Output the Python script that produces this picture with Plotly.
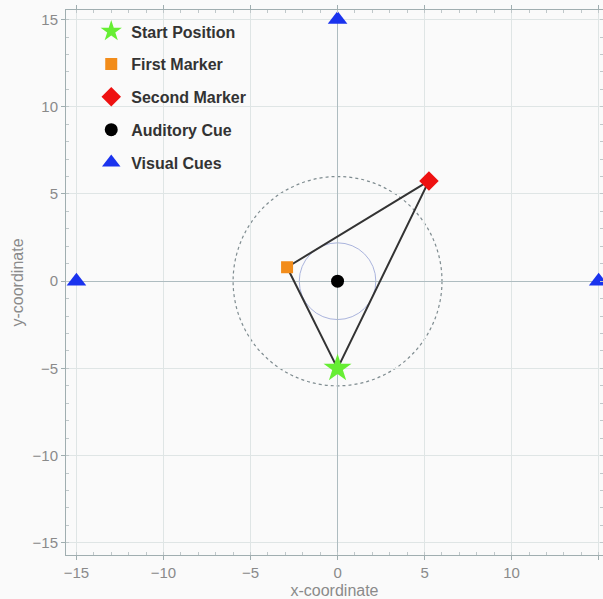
import plotly.graph_objects as go

# Data
start_x, start_y = [0.0], [-5.0]
first_x, first_y = [-2.9], [0.8]
second_x, second_y = [5.25], [5.75]
aud_x, aud_y = [0.0], [0.0]
vis_x, vis_y = [0.0, -15.0, 15.0], [15.0, 0.0, 0.0]
outer_radius = 6.0
inner_radius = 2.2
tick_vals = [-15, -10, -5, 0, 5, 10, 15]

fig = go.Figure()

# triangle path: first -> second -> start -> first
tri_x = first_x + second_x + start_x + first_x
tri_y = first_y + second_y + start_y + first_y
fig.add_trace(go.Scatter(x=tri_x, y=tri_y, mode="lines",
                         line=dict(color="#333333", width=2), showlegend=False, hoverinfo="skip"))

fig.add_trace(go.Scatter(x=start_x, y=start_y, mode="markers", name="Start Position",
                         legendgroup="a",
                         marker=dict(symbol="star", size=21, color="#66ee33", line=dict(width=0))))
fig.add_trace(go.Scatter(x=first_x, y=first_y, mode="markers", name="First Marker",
                         legendgroup="b",
                         marker=dict(symbol="square", size=12, color="#f28c1a", line=dict(width=0))))
fig.add_trace(go.Scatter(x=second_x, y=second_y, mode="markers", name="Second Marker",
                         legendgroup="c",
                         marker=dict(symbol="diamond", size=15, color="#ee1111", line=dict(width=0))))
fig.add_trace(go.Scatter(x=aud_x, y=aud_y, mode="markers", name="Auditory Cue",
                         legendgroup="d",
                         marker=dict(symbol="circle", size=13, color="#000000", line=dict(width=0))))
fig.add_trace(go.Scatter(x=vis_x, y=vis_y, mode="markers", name="Visual Cues",
                         legendgroup="e",
                         marker=dict(symbol="triangle-up", size=17, color="#1a33ee", line=dict(width=0))))

fig.add_shape(type="circle", xref="x", yref="y",
              x0=-outer_radius, y0=-outer_radius, x1=outer_radius, y1=outer_radius,
              line=dict(color="#7f8c90", width=1.2, dash="dot"), layer="below")
fig.add_shape(type="circle", xref="x", yref="y",
              x0=-inner_radius, y0=-inner_radius, x1=inner_radius, y1=inner_radius,
              line=dict(color="#aab4dd", width=1), layer="below")

axis_common = dict(
    tickvals=tick_vals,
    automargin=False,
    showgrid=True, gridcolor="#dfe5e5", gridwidth=1,
    zeroline=True, zerolinecolor="#aebcc0", zerolinewidth=1.2,
    showline=True, linecolor="#a0aeb0", linewidth=1, mirror="ticks",
    ticks="outside", ticklen=4, tickcolor="#a0aeb0",
    minor=dict(ticks="inside", ticklen=3, tickcolor="#c0c8ca", dtick=1, showgrid=False),
    tickfont=dict(family="Liberation Sans, Arial", size=15, color="#8a8a8a"),
    title_font=dict(family="Liberation Sans, Arial", size=16, color="#8a8a8a"),
)

fig.update_layout(
    width=603, height=599,
    margin=dict(l=66, r=0, t=10, b=44),
    paper_bgcolor="#fafafa", plot_bgcolor="#fafafa",
    xaxis=dict(range=[-15.6, 15.25], title=dict(text="x-coordinate", standoff=4), **axis_common),
    yaxis=dict(range=[-15.7, 15.55], title=dict(text="y-coordinate", standoff=4), **axis_common),
    legend=dict(x=0.047, y=0.992, xanchor="left", yanchor="top",
                bgcolor="rgba(0,0,0,0)", tracegroupgap=9,
                font=dict(family="Liberation Sans, Arial", size=16, color="#333333", weight="bold")),
    showlegend=True,
)

fig.write_html(
    "out.html",
    config={"displayModeBar": False},
    post_script="document.body.style.margin='0';document.body.style.overflow='hidden';",
)
